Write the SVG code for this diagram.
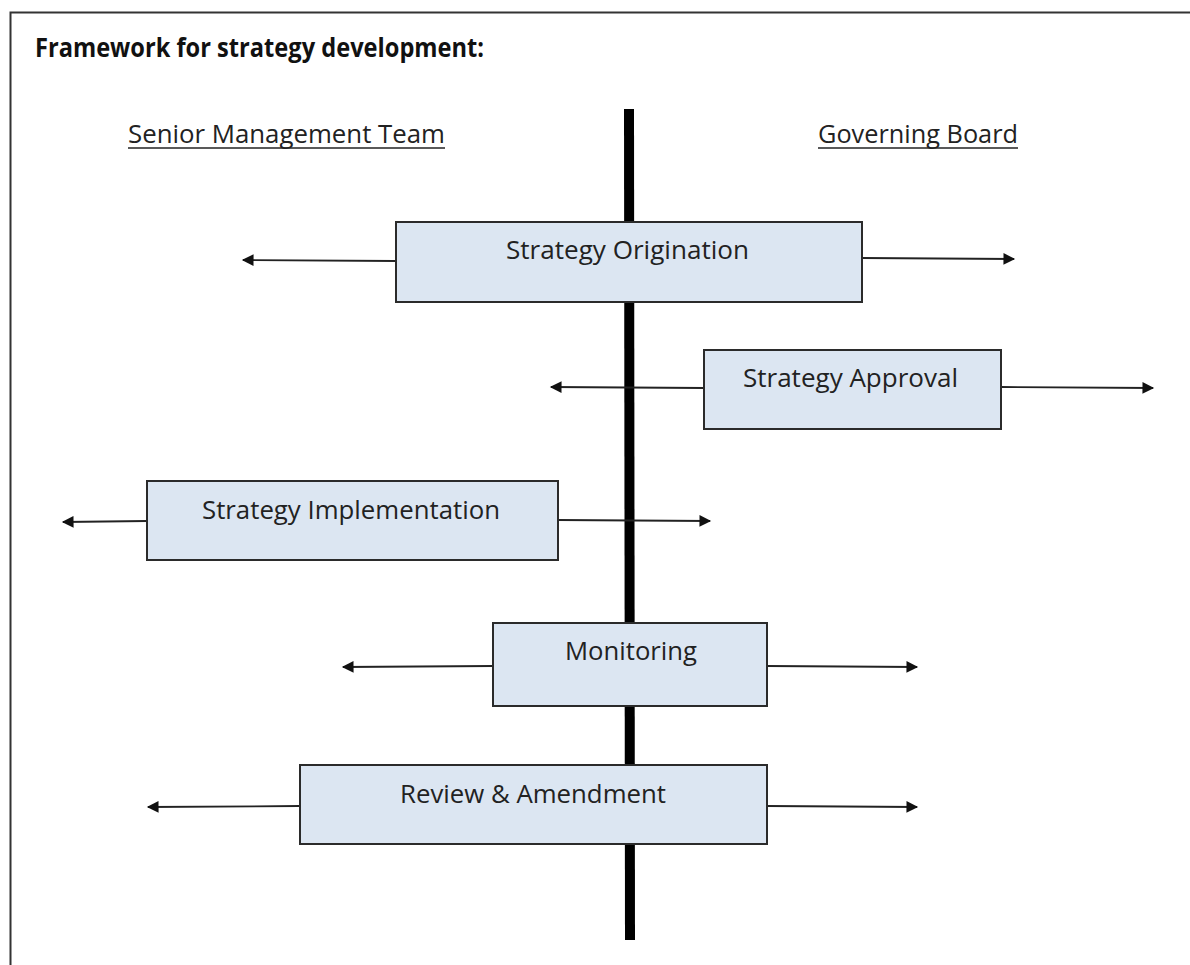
<svg xmlns="http://www.w3.org/2000/svg" width="1190" height="965" viewBox="0 0 1190 965">
<defs>
<style>
.node rect{fill:#dce6f2;stroke:#2b2b2b;stroke-width:2}
.node text{font-family:"Open Sans","Noto Sans","Liberation Sans",sans-serif;font-size:25px;fill:#222}
.hdr{font-family:"Open Sans","Noto Sans","Liberation Sans",sans-serif;font-size:25px;fill:#222}
.uline{stroke:#222;stroke-width:1.6}
.title{font-family:"Open Sans","Noto Sans","Liberation Sans",sans-serif;font-size:27px;font-weight:bold;fill:#111}
.conn line{stroke:#222;stroke-width:1.8;marker-end:url(#ah)}
</style>
<marker id="ah" viewBox="0 0 10 10" refX="9" refY="5" markerWidth="7" markerHeight="6.5" markerUnits="strokeWidth" orient="auto">
<path d="M0,0 L10,5 L0,10 z" fill="#111"/>
</marker>
</defs>
<rect x="0" y="0" width="1190" height="965" fill="#ffffff"/>
<path d="M10.5,965 L10.5,12.5 L1190,12.5" fill="none" stroke="#333" stroke-width="2"/>
<g id="title"><text class="title" x="35" y="57" textLength="449" lengthAdjust="spacingAndGlyphs">Framework for strategy development:</text></g>
<g id="lbl-smt"><text class="hdr" x="128" y="143" textLength="317" lengthAdjust="spacingAndGlyphs">Senior Management Team</text><line class="uline" x1="128" y1="148" x2="445" y2="148"/></g>
<g id="lbl-gb"><text class="hdr" x="818" y="143" textLength="200" lengthAdjust="spacingAndGlyphs">Governing Board</text><line class="uline" x1="818" y1="148" x2="1018" y2="148"/></g>
<g id="axis"><line x1="629" y1="109" x2="630" y2="940" stroke="#000" stroke-width="10"/></g>
<g id="connectors" class="conn">
<line x1="396" y1="261" x2="243" y2="260"/>
<line x1="862" y1="258" x2="1014" y2="259"/>
<line x1="704" y1="388" x2="551" y2="387"/>
<line x1="1001" y1="387" x2="1153" y2="388"/>
<line x1="147" y1="521" x2="63" y2="522"/>
<line x1="558" y1="520" x2="710" y2="521"/>
<line x1="493" y1="666" x2="343" y2="667"/>
<line x1="767" y1="666" x2="917" y2="667"/>
<line x1="300" y1="806" x2="148" y2="807"/>
<line x1="767" y1="806" x2="917" y2="807"/>
</g>
<g id="node-origination" class="node"><rect x="396" y="222" width="466" height="80"/><text x="506" y="259" textLength="243" lengthAdjust="spacingAndGlyphs">Strategy Origination</text></g>
<g id="node-approval" class="node"><rect x="704" y="350" width="297" height="79"/><text x="743" y="387" textLength="215" lengthAdjust="spacingAndGlyphs">Strategy Approval</text></g>
<g id="node-implementation" class="node"><rect x="147" y="481" width="411" height="79"/><text x="202" y="519" textLength="298" lengthAdjust="spacingAndGlyphs">Strategy Implementation</text></g>
<g id="node-monitoring" class="node"><rect x="493" y="623" width="274" height="83"/><text x="565" y="660" textLength="132" lengthAdjust="spacingAndGlyphs">Monitoring</text></g>
<g id="node-review" class="node"><rect x="300" y="765" width="467" height="79"/><text x="400" y="803" textLength="266" lengthAdjust="spacingAndGlyphs">Review &amp; Amendment</text></g>
</svg>
